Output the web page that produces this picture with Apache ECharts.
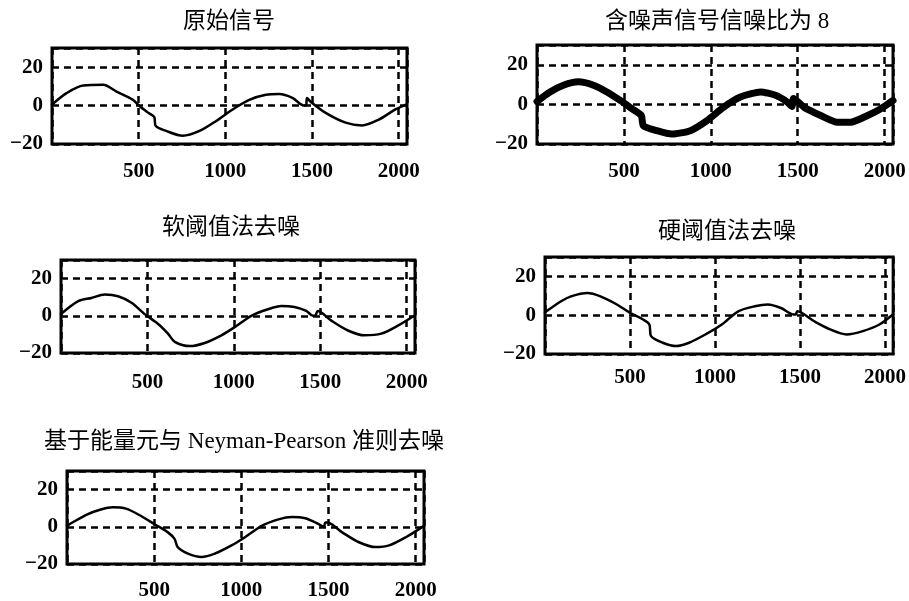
<!DOCTYPE html>
<html>
<head>
<meta charset="utf-8">
<script src="https://cdn.jsdelivr.net/npm/echarts@6/dist/echarts.min.js"></script>
<style>
html,body{margin:0;padding:0;background:#fff;}
#chart{width:909px;height:601px;}
</style>
</head>
<body>
<div id="chart"></div>
<script>
// ---- titles ----
const titles = ['原始信号', '含噪声信号信噪比为 8', '软阈值法去噪', '硬阈值法去噪', '基于能量元与 Neyman-Pearson 准则去噪'];

// ---- tick labels ----
const xTicks = [500, 1000, 1500, 2000];
const yTicks = [-20, 0, 20];

// ---- series values (sample index, amplitude) ----
const origX = [0, 84, 180, 295, 372, 467, 506, 560, 590, 598, 659, 755, 851, 947, 1042, 1138, 1234, 1310, 1387, 1454, 1466, 1471, 1492, 1579, 1694, 1789, 1885, 1981, 2048];
const origY = [0.5, 6.5, 10.5, 10.8, 7.3, 3, -0.3, -4, -6, -10.5, -13.2, -15.7, -13.2, -8, -2, 3, 5.6, 6, 4, 0, 0, 4, 2, -3.8, -8.9, -10.3, -7.3, -2, 0.8];

const noisyX = [0, 75, 152, 238, 325, 402, 479, 546, 600, 612, 690, 776, 882, 978, 1074, 1170, 1286, 1372, 1440, 1466, 1476, 1536, 1632, 1728, 1805, 1902, 1978, 2048];
const noisyY = [1.5, 6.3, 9.7, 11.4, 9.7, 6.3, 2, -2.2, -5.6, -10.8, -13.3, -15, -13.3, -8.2, -1.4, 3.7, 6.3, 4.6, 1.2, -1, 3, -1.4, -5.6, -9, -9, -5.6, -2.2, 2];

const softX = [0, 100, 176, 253, 330, 408, 484, 562, 619, 658, 745, 831, 928, 1005, 1101, 1197, 1275, 1351, 1419, 1458, 1470, 1486, 1564, 1660, 1756, 1853, 1949, 2048];
const softY = [1, 7.9, 9.6, 11.4, 10.5, 7, 0.9, -4.4, -9.6, -14, -16.3, -14.6, -10.5, -6.1, 0, 3.5, 5.3, 4.7, 2.6, 0, 0, 2.6, -2.6, -7.9, -10.5, -9.6, -5.3, 0.3];

const hardX = [0, 95, 153, 249, 326, 423, 500, 577, 614, 624, 693, 770, 847, 944, 1040, 1137, 1234, 1311, 1388, 1465, 1475, 1484, 1581, 1677, 1774, 1870, 1967, 2048];
const hardY = [1.5, 7.2, 9.7, 11.4, 9.7, 5.5, 1.2, -2.2, -4.8, -10.8, -14.2, -15.9, -14.2, -9.9, -4.8, 2, 4.6, 5.5, 3.7, 0.3, 0.3, 2, -3, -7.3, -9.9, -8.2, -4.8, 0.5];

const npX = [0, 31, 117, 194, 262, 338, 425, 502, 579, 617, 635, 694, 771, 848, 944, 1021, 1117, 1213, 1290, 1367, 1444, 1473, 1482, 1493, 1579, 1675, 1771, 1848, 1944, 2048];
const npY = [0.5, 2.3, 6.7, 9.3, 10.5, 9.8, 5.8, 1.4, -3, -6.5, -10.9, -14.4, -16.2, -14.4, -10, -5.6, 0.5, 4, 5.3, 4.6, 1.4, 0, 2.3, 2.3, -3, -8.3, -10.9, -10, -5.6, 0.5];

const seriesX = [origX, noisyX, softX, hardX, npX];
const seriesY = [origY, noisyY, softY, hardY, npY];

// ---- layout ----
const grids = [
  {left: 52, top: 48, width: 355, height: 96},
  {left: 537, top: 45, width: 356, height: 99},
  {left: 61, top: 260, width: 354, height: 93},
  {left: 545, top: 257, width: 357, height: 97},
  {left: 67, top: 471, width: 357, height: 94}
];
const titlePos = [[229, 22], [717, 22], [231, 228], [727, 232], [244, 442]];
const xLabelMargin = [17, 17, 19, 13, 16];
const lineWidths = [2.5, 7, 2.5, 2.5, 2.5];

const dash = {color: '#000', width: 2.5, type: [7, 5]};
const tickFont = {fontSize: 21, fontFamily: '"Liberation Serif", serif', color: '#000', fontWeight: 'bold'};

const option = {
  backgroundColor: '#fff',
  animation: false,
  grid: grids.map(g => Object.assign({show: true, borderColor: '#000', borderWidth: 3, backgroundColor: 'transparent'}, g)),
  xAxis: grids.map((g, i) => ({
    type: 'value', gridIndex: i, min: 0, max: 2048, interval: 500,
    axisLine: {show: false}, axisTick: {show: false},
    splitLine: {show: true, lineStyle: dash},
    axisLabel: Object.assign({margin: xLabelMargin[i], formatter: v => xTicks.indexOf(v) >= 0 ? String(v) : ''}, tickFont)
  })),
  yAxis: grids.map((g, i) => ({
    type: 'value', gridIndex: i, min: -20, max: 30, interval: 20,
    axisLine: {show: false}, axisTick: {show: false},
    splitLine: {show: true, lineStyle: dash},
    axisLabel: Object.assign({margin: 9, formatter: v => yTicks.indexOf(v) >= 0 ? (v < 0 ? '\u2212' + (-v) : String(v)) : ''}, tickFont)
  })),
  series: seriesX.map((xs, i) => ({
    type: 'line', xAxisIndex: i, yAxisIndex: i,
    showSymbol: false, smooth: i === 1 ? 0.2 : 0.3,
    lineStyle: {color: '#000', width: lineWidths[i], join: 'round', cap: 'round'},
    data: xs.map((x, k) => [x, seriesY[i][k]])
  })),
  graphic: titles.map((t, i) => ({
    type: 'text', x: titlePos[i][0], y: titlePos[i][1],
    style: {text: t, align: 'center', verticalAlign: 'middle', font: '23px "Liberation Serif", "Noto Sans CJK SC"', fill: '#000'}
  }))
};

const chart = echarts.init(document.getElementById('chart'), null, {renderer: 'canvas'});
chart.setOption(option);
</script>
</body>
</html>
